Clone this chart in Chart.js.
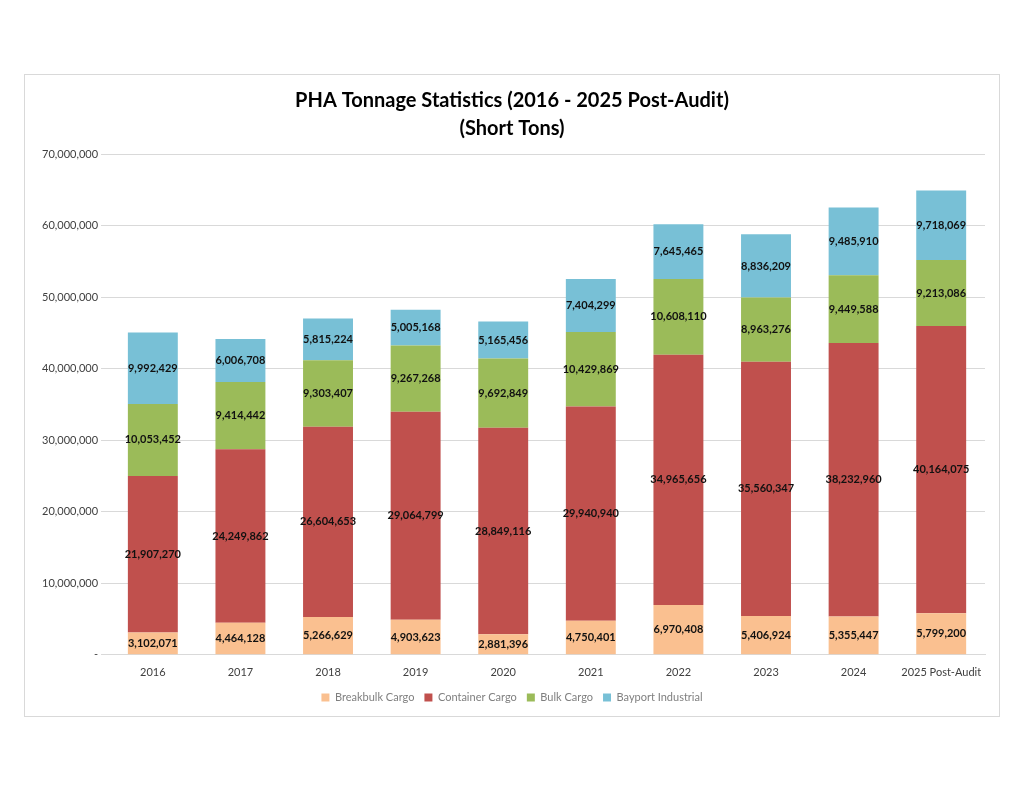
<!DOCTYPE html>
<html>
<head>
<meta charset="utf-8">
<script src="https://cdn.jsdelivr.net/npm/chart.js@4"></script>
<style>
  html, body { margin: 0; padding: 0; background: #fff; }
  #box {
    position: absolute; left: 24px; top: 74px;
    width: 974px; height: 641px;
    border: 1px solid #d9d9d9; background: #fff;
  }
</style>
</head>
<body>
<div id="box"><canvas id="grafico"></canvas></div>
<script>
// ---- dados ----
const anos = ['2016','2017','2018','2019','2020','2021','2022','2023','2024','2025 Post-Audit'];
const breakbulk = [3102071, 4464128, 5266629, 4903623, 2881396, 4750401, 6970408, 5406924, 5355447, 5799200];
const container = [21907270, 24249862, 26604653, 29064799, 28849116, 29940940, 34965656, 35560347, 38232960, 40164075];
const bulk      = [10053452, 9414442, 9303407, 9267268, 9692849, 10429869, 10608110, 8963276, 9449588, 9213086];
const bayport   = [9992429, 6006708, 5815224, 5005168, 5165456, 7404299, 7645465, 8836209, 9485910, 9718069];

const FONTE = 'Lato, "Open Sans", sans-serif';
const fmt = v => v.toLocaleString('en-US');

// rótulos dentro das barras
const rotulos = {
  id: 'rotulos',
  afterDatasetsDraw(chart) {
    const ctx = chart.ctx;
    ctx.save();
    ctx.font = 'bold 11px ' + FONTE;
    ctx.fillStyle = '#111';
    ctx.textAlign = 'center';
    ctx.textBaseline = 'middle';
    chart.data.datasets.forEach((ds, i) => {
      chart.getDatasetMeta(i).data.forEach((bar, j) => {
        const y = (bar.y + bar.base) / 2;
        ctx.fillText(fmt(ds.data[j]), bar.x, y);
      });
    });
    ctx.restore();
  }
};

new Chart(document.getElementById('grafico').getContext('2d'), {
  type: 'bar',
  data: {
    labels: anos,
    datasets: [
      { label: 'Breakbulk Cargo',   data: breakbulk, backgroundColor: '#FAC090' },
      { label: 'Container Cargo',   data: container, backgroundColor: '#C0504D' },
      { label: 'Bulk Cargo',        data: bulk,      backgroundColor: '#9BBB59' },
      { label: 'Bayport Industrial',data: bayport,   backgroundColor: '#78C0D6' },
    ]
  },
  options: {
    responsive: true,
    maintainAspectRatio: false,
    animation: false,
    layout: { padding: { left: 14, right: 14, top: 7, bottom: 3 } },
    datasets: { bar: { categoryPercentage: 1, barPercentage: 0.57 } },
    plugins: {
      title: {
        display: true,
        text: ['PHA Tonnage Statistics (2016 - 2025 Post-Audit)', '(Short Tons)'],
        font: { family: FONTE, size: 20, weight: 'bold', lineHeight: 1.4 },
        color: '#000',
        padding: { top: 5, bottom: 11 }
      },
      legend: {
        position: 'bottom',
        labels: {
          boxWidth: 8, boxHeight: 8,
          color: '#7f7f7f',
          font: { family: FONTE, size: 11 },
          padding: 10
        }
      },
      tooltip: { enabled: false }
    },
    scales: {
      x: {
        stacked: true,
        grid: { display: false },
        border: { color: '#d9d9d9' },
        ticks: { color: '#404040', padding: 3, font: { family: FONTE, size: 11 } }
      },
      y: {
        stacked: true,
        min: 0, max: 70000000,
        ticks: {
          stepSize: 10000000,
          color: '#404040',
          font: { family: FONTE, size: 11 },
          callback: v => v === 0 ? '-' : fmt(v)
        },
        grid: { color: '#d9d9d9' },
        border: { display: false }
      }
    }
  },
  plugins: [rotulos]
});
</script>
</body>
</html>
